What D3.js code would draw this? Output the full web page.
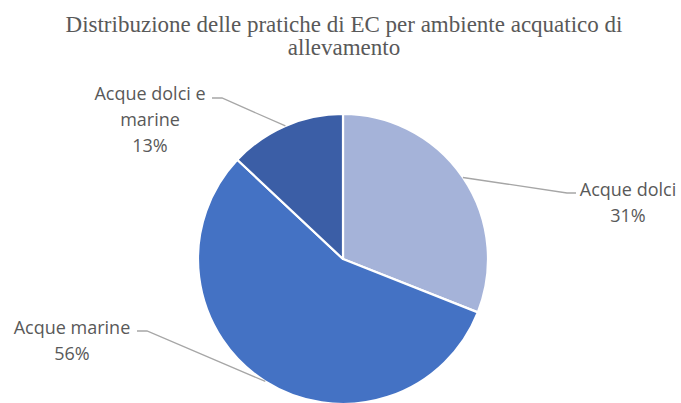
<!DOCTYPE html>
<html>
<head>
<meta charset="utf-8">
<script src="https://cdn.jsdelivr.net/npm/d3@7"></script>
<style>
  html, body { margin: 0; padding: 0; background: #fff; }
  svg { display: block; }
</style>
</head>
<body>
<svg id="chart" width="681" height="403"></svg>
<script>
// Share of EC practices by farming water environment
const categories = ["Acque dolci", "Acque marine", "Acque dolci e marine"];
const shares = [31, 56, 13];
const labelLines = [["Acque dolci", "31%"], ["Acque marine", "56%"], ["Acque dolci e", "marine", "13%"]];
const titleLines = ["Distribuzione delle pratiche di EC per ambiente acquatico di", "allevamento"];

const colors = ["#a5b3d9", "#4472c4", "#3b5ea6"];

// label layout: text anchor point, leader elbow, first baseline
const labelLayout = [
  { cx: 628, y0: 196, elbow: [567, 193], end: [576, 193] },
  { cx: 72,  y0: 334, elbow: [147, 331], end: [137, 331] },
  { cx: 150, y0: 100, elbow: [222, 98],  end: [212, 98] }
];

const W = 681, H = 403;
const cx = 343, cy = 259, R = 145;

const svg = d3.select("#chart");
svg.append("rect").attr("width", W).attr("height", H).attr("fill", "#fff");

// title
const title = svg.append("text")
  .attr("text-anchor", "middle")
  .attr("font-family", "'Liberation Serif', 'Times New Roman', serif")
  .attr("font-size", 23)
  .attr("fill", "#595959");
title.selectAll("tspan").data(titleLines).join("tspan")
  .attr("x", 344)
  .attr("y", (d, i) => 32 + i * 23)
  .text(d => d);

const data = categories.map((c, i) => ({ name: c, value: shares[i], i }));
const pie = d3.pie().value(d => d.value).sort(null);
const arcs = pie(data);
const arc = d3.arc().innerRadius(0).outerRadius(R);

const g = svg.append("g").attr("transform", `translate(${cx},${cy})`);
g.selectAll("path").data(arcs).join("path")
  .attr("d", arc)
  .attr("fill", d => colors[d.data.i])
  .attr("stroke", "#fff")
  .attr("stroke-width", 2.2)
  .attr("stroke-linejoin", "round");

// leader lines from the middle of each slice edge
arcs.forEach(a => {
  const L = labelLayout[a.data.i];
  const mid = (a.startAngle + a.endAngle) / 2;
  const p0 = [cx + R * Math.sin(mid), cy - R * Math.cos(mid)];
  svg.append("polyline")
    .attr("points", [p0, L.elbow, L.end].map(p => p.join(",")).join(" "))
    .attr("fill", "none")
    .attr("stroke", "#a6a6a6")
    .attr("stroke-width", 1.3);

  const t = svg.append("text")
    .attr("text-anchor", "middle")
    .attr("font-family", "'Open Sans', 'Liberation Sans', sans-serif")
    .attr("font-size", 18)
    .attr("fill", "#595959");
  t.selectAll("tspan").data(labelLines[a.data.i]).join("tspan")
    .attr("x", L.cx)
    .attr("y", (d, k) => L.y0 + k * 26)
    .text(d => d);
});
</script>
</body>
</html>
